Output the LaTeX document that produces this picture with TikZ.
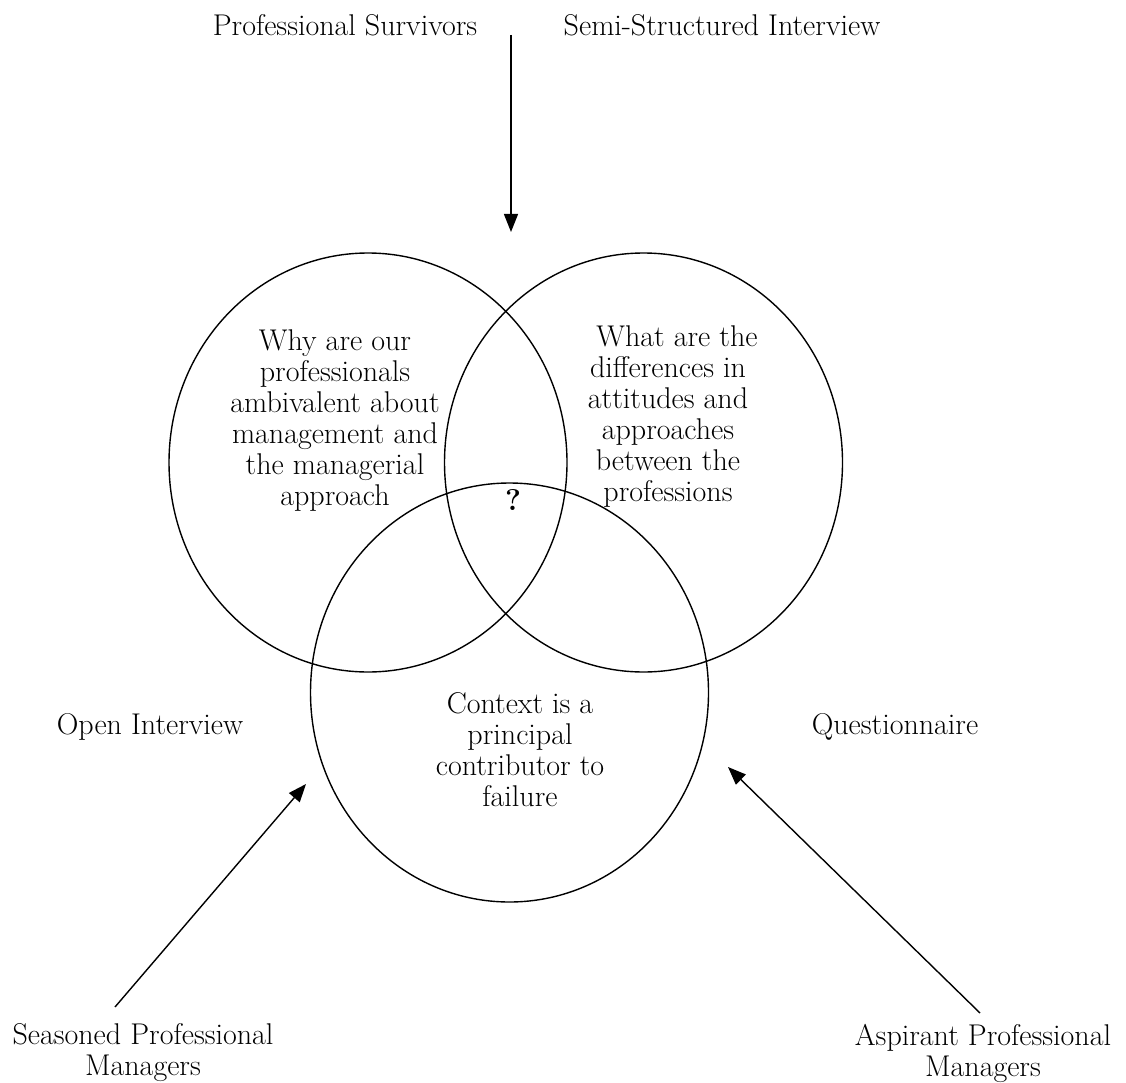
\documentclass[tikz,border=0pt]{standalone}
\usepackage{fontspec}
\usetikzlibrary{shapes.geometric,arrows.meta}
\begin{document}
\begin{tikzpicture}[x=1pt,y=-1pt,
  venn/.style={draw,ellipse,line width=1.4pt,minimum width=398pt,minimum height=419pt,inner sep=0pt},
  lbl/.style={align=center,font=\fontsize{30}{31}\selectfont},
  arr/.style={line width=1.4pt,-{Triangle[length=18pt,width=14pt]}}]
\useasboundingbox (0,0) rectangle (1126,1083);
\node[venn] (cL) at (368,462.5) {};
\node[venn] (cR) at (643.5,462.5) {};
\node[venn] (cB) at (509.5,692.5) {};
\node[lbl] (tL) at (335,420.5) {Why are our\\professionals\\ambivalent about\\management and\\the managerial\\approach};
\node[lbl] (tR) at (668,416.5) {\hspace*{0.6em}What are the\\differences in\\attitudes and\\approaches\\between the\\professions};
\node[lbl] (tB) at (520,750) {Context is a\\principal\\contributor to\\failure};
\node[lbl,font=\fontsize{30}{31}\selectfont\bfseries] (q) at (513,500) {?};
\node[lbl] (ps) at (345,25) {Professional Survivors};
\node[lbl] (ssi) at (722,25) {Semi-Structured Interview};
\node[lbl] (oi) at (150,727) {Open Interview};
\node[lbl] (qu) at (895,727) {Questionnaire};
\node[lbl] (spm) at (143,1053) {Seasoned Professional\\Managers};
\node[lbl] (apm) at (983,1053) {Aspirant Professional\\Managers};
\coordinate (a1s) at (511,35);
\coordinate (a1e) at (511,232);
\coordinate (a2s) at (115,1007);
\coordinate (a2e) at (306,784);
\coordinate (a3s) at (980,1013);
\coordinate (a3e) at (728,767);
\draw[arr] (a1s) -- (a1e);
\draw[arr] (a2s) -- (a2e);
\draw[arr] (a3s) -- (a3e);
\end{tikzpicture}
\end{document}
